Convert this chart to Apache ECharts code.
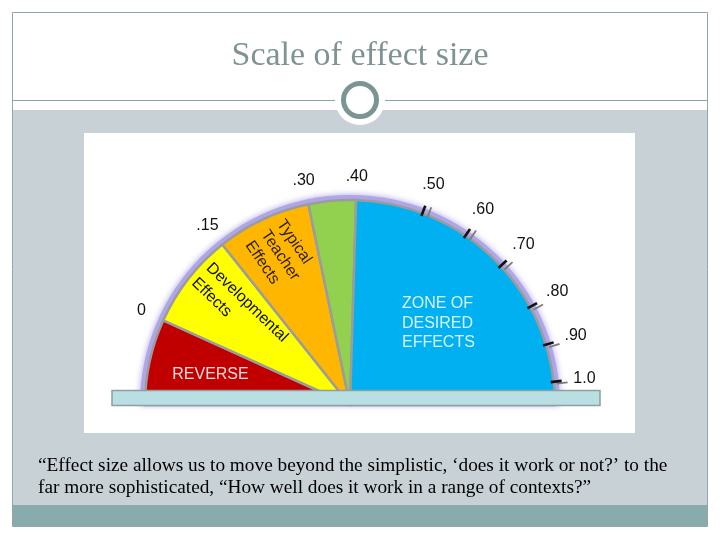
<!DOCTYPE html>
<html><head><meta charset="utf-8">
<script src="https://cdn.jsdelivr.net/npm/echarts@6/dist/echarts.min.js"></script>
<style>html,body{margin:0;padding:0;background:#fff}#c{width:720px;height:540px}</style>
</head><body><div id="c"></div>
<script>
// ---- data ----
const titleText = 'Scale of effect size';
const quoteLines = [
  '\u201cEffect size allows us to move beyond the simplistic, \u2018does it work or not?\u2019 to the',
  'far more sophisticated, \u201cHow well does it work in a range of contexts?\u201d'
];
const tickLabels = ['0', '.15', '.30', '.40', '.50', '.60', '.70', '.80', '.90', '1.0'];
// dial angle (degrees, 0 = right, 90 = top) of each tick
const tickAngles = [155.6, 128.5, 101.7, 88.3, 69.3, 55.7, 42.7, 28.6, 17.1, 6.5];
const zoneNames = ['REVERSE', 'Developmental\nEffects', 'Typical\nTeacher\nEffects', '', 'ZONE OF\nDESIRED\nEFFECTS'];
// zones are bounded by the dial ends (180 / 0) and the ticks 0, .15, .30, .40
const zoneEdgeTicks = [null, 0, 1, 2, 3, null];

// ---- derived ----
const zoneEdges = zoneEdgeTicks.map((t, i) => t === null ? (i === 0 ? 180 : 0) : tickAngles[t]);
const zoneSpans = zoneNames.map((n, i) => zoneEdges[i] - zoneEdges[i + 1]);

// ---- styles / layout ----
const zoneColors = ['#c00000', '#ffff00', '#ffb600', '#92d050', '#00b0f0'];
const zoneTextColors = ['#f7dada', '#111111', '#2a1e00', '#000', '#d6f3ff'];
const zoneLabelLayout = [
  { r: 142.7, a: 167.9, rot: 0, align: 'center', lh: 20 },
  { r: 198.8, a: 138.4, rot: -44, align: 'left', lh: 21 },
  { r: 193.2, a: 116.3, rot: -56, align: 'left', lh: 19 },
  null,
  { r: 96.7, a: 57.5, rot: 0, align: 'left', lh: 19.5 }
];
const CX = 350, CY = 405, R = 205;
const FONT = '16px "Liberation Sans", Arial, sans-serif';
const SERIF = '"Liberation Serif", "Times New Roman", serif';

const chart = echarts.init(document.getElementById('c'), null, { renderer: 'canvas' });

const pieData = zoneNames.map((n, i) => ({
  name: 'zone' + i, value: zoneSpans[i], itemStyle: { color: zoneColors[i] }
}));
pieData.push({ name: 'hidden', value: 180, itemStyle: { color: 'rgba(0,0,0,0)', borderWidth: 0 } });

const option = {
  backgroundColor: '#ffffff',
  animation: false,
  polar: { center: [CX, CY], radius: 250 },
  angleAxis: { type: 'value', min: 0, max: 360, startAngle: 0, clockwise: false, show: false },
  radiusAxis: { type: 'value', min: 0, max: 250, show: false },
  graphic: [
    // slide frame
    { type: 'rect', z: -10, shape: { x: 12.5, y: 12.5, width: 695, height: 514 }, style: { fill: '#ffffff', stroke: '#93a6a6', lineWidth: 1 } },
    { type: 'rect', z: -9, shape: { x: 13, y: 110, width: 694, height: 395 }, style: { fill: '#c7d1d6' } },
    { type: 'rect', z: -9, shape: { x: 13, y: 505, width: 694, height: 21.5 }, style: { fill: '#8aabab' } },
    { type: 'line', z: -9, shape: { x1: 13, y1: 100.5, x2: 707, y2: 100.5 }, style: { stroke: '#8fa3a3', lineWidth: 1 } },
    { type: 'circle', z: -8, shape: { cx: 360, cy: 100, r: 25 }, style: { fill: '#ffffff' } },
    { type: 'circle', z: -7, shape: { cx: 360, cy: 100, r: 16.5 }, style: { fill: '#ffffff', stroke: '#7b9595', lineWidth: 5 } },
    { type: 'text', z: -7, x: 360, y: 56, style: { text: titleText, fill: '#7f9393', font: '34px ' + SERIF, align: 'center', verticalAlign: 'middle' } },
    // picture panel
    { type: 'rect', z: -8, shape: { x: 84, y: 133, width: 551, height: 300 }, style: { fill: '#ffffff' } },
    // quote
    { type: 'text', z: -7, x: 38, y: 466, style: { text: quoteLines[0], fill: '#000', font: '19.3px ' + SERIF, align: 'left', verticalAlign: 'middle' } },
    { type: 'text', z: -7, x: 38, y: 488, style: { text: quoteLines[1], fill: '#000', font: '19.3px ' + SERIF, align: 'left', verticalAlign: 'middle' } },
    // base plinth
    { type: 'rect', z: 50, shape: { x: 112, y: 390.5, width: 488, height: 15 }, style: { fill: '#b9dfe3', stroke: '#8f9f9f', lineWidth: 1.5 } }
  ],
  series: [
    { // lavender glow
      type: 'pie', z: 1, silent: true, center: [CX, CY], radius: R + 5, startAngle: 180, clockwise: true,
      label: { show: false }, labelLine: { show: false }, emphasis: { disabled: true },
      data: [
        { name: 'g', value: 180, itemStyle: { color: '#aea6e6', shadowBlur: 6, shadowColor: 'rgba(160,150,225,0.9)' } },
        { name: 'h', value: 180, itemStyle: { color: 'rgba(0,0,0,0)' } }
      ]
    },
    { // zones
      type: 'pie', z: 2, silent: true, center: [CX, CY], radius: R, startAngle: 180, clockwise: true,
      label: { show: false }, labelLine: { show: false }, emphasis: { disabled: true },
      itemStyle: { borderColor: '#9c9c9c', borderWidth: 2.5 },
      data: pieData
    },
    { // ticks inside desired zone
      type: 'custom', coordinateSystem: 'polar', z: 5, silent: true,
      data: tickAngles.slice(4).map(a => [R, a]),
      renderItem(params, api) {
        const a = api.value(1);
        const p1 = api.coord([R - 3, a]), p2 = api.coord([R + 8, a]);
        return { type: 'group', children: [
          { type: 'line', shape: { x1: p1[0] + 6, y1: p1[1] + 1.5, x2: p2[0] + 6, y2: p2[1] + 1.5 }, style: { stroke: '#7d7d7d', lineWidth: 1.8 } },
          { type: 'line', shape: { x1: p1[0], y1: p1[1], x2: p2[0], y2: p2[1] }, style: { stroke: '#111', lineWidth: 2.6 } }
        ] };
      }
    },
    { // tick labels
      type: 'custom', coordinateSystem: 'polar', z: 6, silent: true,
      data: tickAngles.map((a, i) => [i < 4 ? 229 : 236, a]),
      renderItem(params, api) {
        const p = api.coord([api.value(0), api.value(1)]);
        return { type: 'text', x: p[0], y: p[1], style: { text: tickLabels[params.dataIndex], fill: '#111', font: FONT, align: 'center', verticalAlign: 'middle' } };
      }
    },
    { // zone labels
      type: 'custom', coordinateSystem: 'polar', z: 6, silent: true,
      data: zoneNames.map((n, i) => zoneLabelLayout[i] ? [zoneLabelLayout[i].r, zoneLabelLayout[i].a] : [0, 0]),
      renderItem(params, api) {
        const i = params.dataIndex, L = zoneLabelLayout[i];
        if (!L || !zoneNames[i]) return null;
        const p = api.coord([api.value(0), api.value(1)]);
        return { type: 'text', x: p[0], y: p[1], rotation: L.rot * Math.PI / 180,
          style: { text: zoneNames[i], fill: zoneTextColors[i], font: FONT, align: L.align, verticalAlign: 'middle', lineHeight: L.lh } };
      }
    }
  ]
};
chart.setOption(option);
</script>
</body></html>
